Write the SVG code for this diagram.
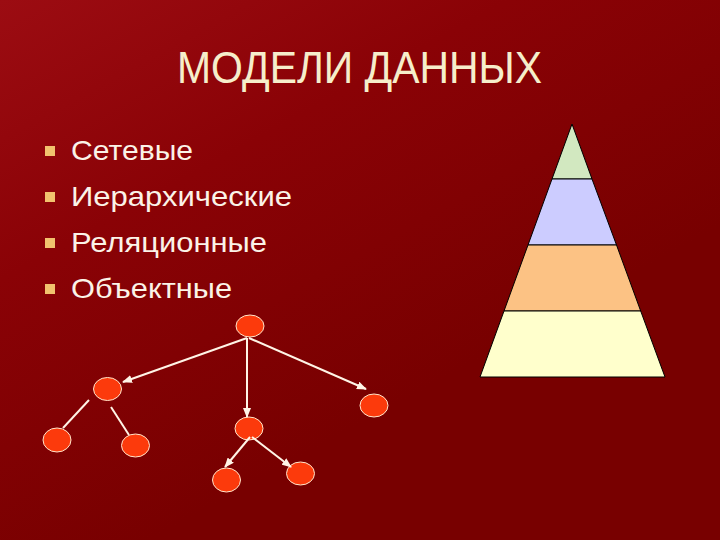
<svg xmlns="http://www.w3.org/2000/svg" width="720" height="540" viewBox="0 0 720 540">
<defs>
<linearGradient id="bg" x1="0" y1="0" x2="0.55" y2="0.75">
<stop offset="0" stop-color="#9c0c12"/>
<stop offset="0.45" stop-color="#8a0206"/>
<stop offset="1" stop-color="#780000"/>
</linearGradient>
<marker id="ah" markerWidth="10" markerHeight="8" refX="9" refY="4" orient="auto" markerUnits="userSpaceOnUse">
<path d="M0,0 L10,4 L0,8 Z" fill="#fff4e6"/>
</marker>
<style>
.title{font-family:"Liberation Sans",Arial,sans-serif;font-size:44px;fill:#f6eecb}
.item{font-family:"Liberation Sans",Arial,sans-serif;font-size:28px;fill:#fbf3e8}
.bul{fill:#f2c26e}
.node{fill:#fc3a0c;stroke:#ffe6cc;stroke-width:1}
.edge{stroke:#fff4e6;stroke-width:2;fill:none}
.arr{marker-end:url(#ah)}
.band{stroke:#000;stroke-width:1}
</style>
</defs>
<rect x="0" y="0" width="720" height="540" fill="url(#bg)"/>
<text class="title" x="177" y="83" textLength="365" lengthAdjust="spacingAndGlyphs">МОДЕЛИ ДАННЫХ</text>
<g id="list">
<rect class="bul" x="45" y="146" width="10" height="10"/>
<text class="item" x="71" y="160" textLength="122" lengthAdjust="spacingAndGlyphs">Сетевые</text>
<rect class="bul" x="45" y="192" width="10" height="10"/>
<text class="item" x="71" y="206" textLength="221" lengthAdjust="spacingAndGlyphs">Иерархические</text>
<rect class="bul" x="45" y="238" width="10" height="10"/>
<text class="item" x="71" y="252" textLength="196" lengthAdjust="spacingAndGlyphs">Реляционные</text>
<rect class="bul" x="45" y="284" width="10" height="10"/>
<text class="item" x="71" y="298" textLength="161" lengthAdjust="spacingAndGlyphs">Объектные</text>
</g>
<g id="pyramid">
<polygon class="band" points="572,124 592,179 552,179" fill="#d2e8c0"/>
<polygon class="band" points="552,179 592,179 616.5,245 528,245" fill="#ccccff"/>
<polygon class="band" points="528,245 616.5,245 640.7,311 504,311" fill="#fcc284"/>
<polygon class="band" points="504,311 640.7,311 665,377 480,377" fill="#ffffcc"/>
</g>
<g id="n-root"><ellipse class="node" cx="250" cy="326" rx="14" ry="11"/></g>
<g id="n-a"><ellipse class="node" cx="107.5" cy="389" rx="14" ry="11.5"/></g>
<g id="n-b"><ellipse class="node" cx="249" cy="428.5" rx="14" ry="11.5"/></g>
<g id="n-c"><ellipse class="node" cx="374" cy="405.5" rx="14" ry="11.5"/></g>
<g id="n-a1"><ellipse class="node" cx="57" cy="440" rx="14" ry="12"/></g>
<g id="n-a2"><ellipse class="node" cx="135.5" cy="445.5" rx="14" ry="11.5"/></g>
<g id="n-b1"><ellipse class="node" cx="226.5" cy="480" rx="14" ry="12"/></g>
<g id="n-b2"><ellipse class="node" cx="300.5" cy="473.5" rx="14" ry="11.5"/></g>
<g id="connectors">
<line class="edge arr" x1="247" y1="338" x2="123" y2="382"/>
<line class="edge arr" x1="247" y1="338" x2="247" y2="417"/>
<line class="edge arr" x1="249" y1="338" x2="366" y2="389"/>
<line class="edge" x1="89" y1="400" x2="63" y2="428"/>
<line class="edge" x1="111" y1="407" x2="129" y2="435"/>
<line class="edge arr" x1="250" y1="437" x2="225" y2="467"/>
<line class="edge arr" x1="252" y1="437" x2="291" y2="467"/>
</g>
</svg>
